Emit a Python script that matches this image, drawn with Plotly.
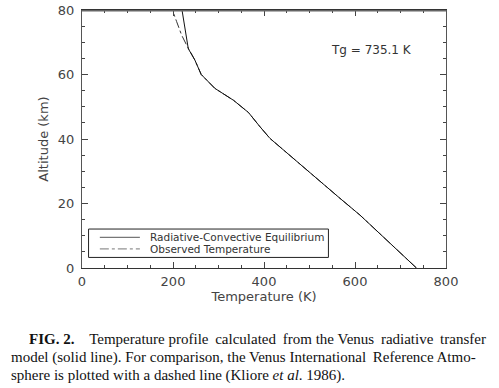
import plotly.graph_objects as go

# Radiative-convective equilibrium model profile
model_temp = [735.1, 611, 567, 490, 413, 390, 366, 333, 292, 262, 248, 233.6, 227, 219.8]
model_alt = [0, 16.4, 21.6, 31, 40.2, 44, 48.2, 52, 55.7, 60, 64.5, 68, 74, 80]

# Observed (VIRA) temperature profile
obs_temp = [735.1, 611, 567, 490, 413, 390, 366, 333, 292, 262, 248, 230, 219, 208, 198.5]
obs_alt = [0, 16.4, 21.6, 31, 40.2, 44, 48.2, 52, 55.7, 60, 64.5, 69.1, 72.2, 76.4, 80]

x_ticks = [0, 200, 400, 600, 800]
y_ticks = [0, 20, 40, 60, 80]

legend_labels = ["Radiative-Convective Equilibrium", "Observed Temperature"]
tg_label = "Tg = 735.1 K"
TS = "\u2009"  # thin space used to justify caption lines
caption = [
    "<b>FIG. 2.</b>&nbsp;&nbsp;&nbsp; Temperature profile" + TS + " calculated" + TS
    + " from the Venus" + TS + " radiative" + TS + " transfer",
    "model (solid line). For comparison, the Venus International" + TS
    + " Reference Atmo-",
    "sphere is plotted with a dashed line (Kliore <i>et al</i>. 1986).",
]

L, R, T, B = 82, 446, 10, 268
W, H = 499, 388

fig = go.Figure()
fig.add_trace(go.Scatter(x=obs_temp, y=obs_alt, mode="lines",
                         line=dict(color="#333", width=1, dash="dashdot"),
                         name=legend_labels[1], showlegend=False))
fig.add_trace(go.Scatter(x=model_temp, y=model_alt, mode="lines",
                         line=dict(color="#111", width=1),
                         name=legend_labels[0], showlegend=False))

axfont = dict(family="DejaVu Sans", size=13, color="#444")
fig.update_xaxes(range=[0, 800], tickvals=x_ticks, ticks="inside", ticklen=6,
                 tickcolor="#444", showline=True, linecolor="#333", linewidth=1,
                 mirror="ticks", showgrid=False, zeroline=False, tickfont=axfont,
                 automargin=False, ticklabelstandoff=1,
                 minor=dict(dtick=50, ticks="inside", ticklen=3, tickcolor="#444"),
                 title=dict(text="Temperature (K)", font=axfont, standoff=3))
fig.update_yaxes(range=[0, 80], tickvals=y_ticks, ticks="inside", ticklen=6,
                 tickcolor="#444", showline=True, linecolor="#555", linewidth=1,
                 mirror="ticks", showgrid=False, zeroline=False, tickfont=axfont,
                 automargin=False, ticklabelstandoff=4,
                 minor=dict(dtick=5, ticks="inside", ticklen=3, tickcolor="#444"),
                 title=dict(text="Altitude (km)", font=axfont, standoff=6))

# top edge of the plot frame
fig.add_shape(type="line", xref="x domain", yref="y domain",
              x0=0, x1=1, y0=0.997, y1=0.997, line=dict(color="#666", width=1.5),
              layer="above")

# legend (drawn manually for compact rows)
fig.add_shape(type="rect", xref="x domain", yref="y domain",
              x0=0.018, x1=0.677, y0=0.041, y1=0.151,
              line=dict(color="#222", width=1), fillcolor="white")
fig.add_shape(type="line", xref="x domain", yref="y domain",
              x0=0.049, x1=0.159, y0=0.119, y1=0.119,
              line=dict(color="#555", width=1))
fig.add_shape(type="line", xref="x domain", yref="y domain",
              x0=0.049, x1=0.159, y0=0.074, y1=0.074,
              line=dict(color="#777", width=1, dash="dashdot"))
legfont = dict(family="DejaVu Sans", size=10.5, color="#333")
for lab, yy in zip(legend_labels, [0.119, 0.074]):
    fig.add_annotation(xref="x domain", yref="y domain", x=0.181, y=yy,
                       text=lab, showarrow=False, xanchor="left", yanchor="middle",
                       font=legfont)

fig.add_annotation(xref="x domain", yref="y domain", x=0.679, y=0.846,
                   text=tg_label, showarrow=False, xanchor="left", yanchor="middle",
                   font=dict(family="DejaVu Sans", size=12, color="#333"))

capfont = dict(family="Liberation Serif", size=15, color="#111")
cap_px = [27, 9, 9]
cap_py = [339, 357, 375]
for t, cx, cy in zip(caption, cap_px, cap_py):
    fig.add_annotation(xref="paper", yref="paper",
                       x=(cx - L) / (R - L), y=(B - cy) / (B - T),
                       text=t, showarrow=False, xanchor="left", yanchor="middle",
                       font=capfont)

fig.update_layout(width=W, height=H, margin=dict(l=L, r=W - R, t=T, b=H - B),
                  plot_bgcolor="white", paper_bgcolor="white", showlegend=False)

fig.write_html("out.html", config={"displayModeBar": False},
               post_script="document.body.style.margin='0';"
                           "document.body.style.overflow='hidden';")
